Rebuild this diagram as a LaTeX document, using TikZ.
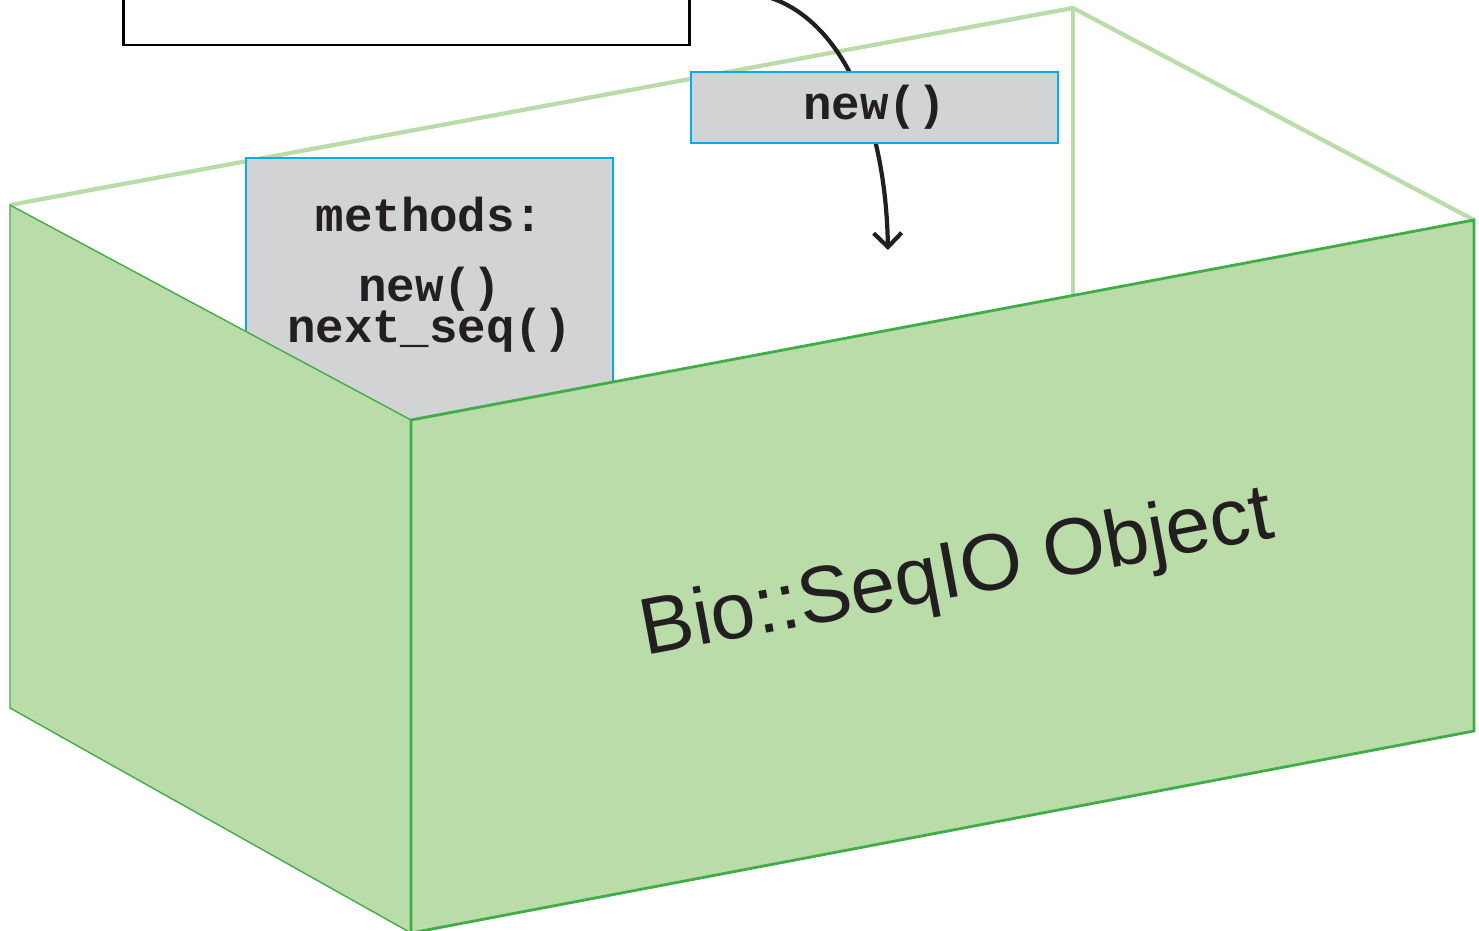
\documentclass[tikz,border=0pt]{standalone}
\usepackage{fontspec}
\usetikzlibrary{positioning,arrows.meta}
\newfontfamily\labelfont{Liberation Sans}
\newfontfamily\codefont{Liberation Mono}
\definecolor{boxgreen}{RGB}{185,220,169}
\definecolor{edgegreen}{RGB}{64,173,73}
\definecolor{methgray}{RGB}{209,211,212}
\definecolor{methcyan}{RGB}{0,174,239}
\definecolor{inkblack}{RGB}{35,31,32}
\tikzset{
  backedge/.style={draw=boxgreen, line width=1.2pt},
  leftface/.style={fill=boxgreen, draw=edgegreen, line width=0.4pt},
  frontface/.style={fill=boxgreen, draw=edgegreen, line width=0.8pt},
  methodbox/.style={rectangle, fill=methgray, draw=methcyan, line width=0.7pt, inner sep=0pt},
  codetext/.style={font={\codefont\bfseries\fontsize{13.5}{11.5}\selectfont\lineskiplimit=-100pt}, text=inkblack, align=center, inner sep=0pt},
  callerbox/.style={rectangle, draw=black, fill=white, line width=0.8pt},
  callarrow/.style={draw=inkblack, line width=1.2pt, -{Straight Barb[length=1.4mm,width=2.8mm]}},
}
\begin{document}
\begin{tikzpicture}[x=0.01cm,y=-0.01cm]
  \useasboundingbox (0,0) rectangle (1479,931);
  \clip (0,0) rectangle (1479,931);
  \coordinate (backleft) at (10,205);
  \coordinate (backtop) at (1073,8);
  \coordinate (backright) at (1474,220);
  \coordinate (backfoot) at (1073,300);
  \coordinate (cornertop) at (411,420);
  \coordinate (cornerbot) at (411,933);
  \coordinate (leftbot) at (10,708);
  \coordinate (rightbot) at (1474,731);

  \draw[backedge] (backleft) -- (backtop) -- (backright);
  \draw[backedge] (backtop) -- (backfoot);

  \node[callerbox, minimum width=5.65cm, minimum height=1.2cm] (caller) at (406.5,-15) {};

  \coordinate (callsrc) at (760,-5);
  \coordinate (calltip) at (888,250);
  \draw[callarrow] (callsrc) .. controls (830,10) and (885,100) .. (calltip);

  \node[methodbox, minimum width=3.67cm, minimum height=2.7cm, anchor=north] (methods) at (429.5,157) {};
  \node[codetext, below=0.39cm of methods.north] (methodlist) {methods:\\[0.30cm]new()\\next\_seq()};
  \node[methodbox, codetext, minimum width=3.67cm, minimum height=0.71cm] (newcall) at (874.5,107.5) {new()};

  \draw[leftface] (backleft) -- (cornertop) -- (cornerbot) -- (leftbot) -- cycle;
  \draw[frontface] (cornertop) -- (backright) -- (rightbot) -- (cornerbot) -- cycle;
  \node[font=\labelfont\fontsize{22.8}{27}\selectfont, text=inkblack, rotate=10.65] (objname) at (957,576) {Bio::SeqIO Object};
\end{tikzpicture}
\end{document}
